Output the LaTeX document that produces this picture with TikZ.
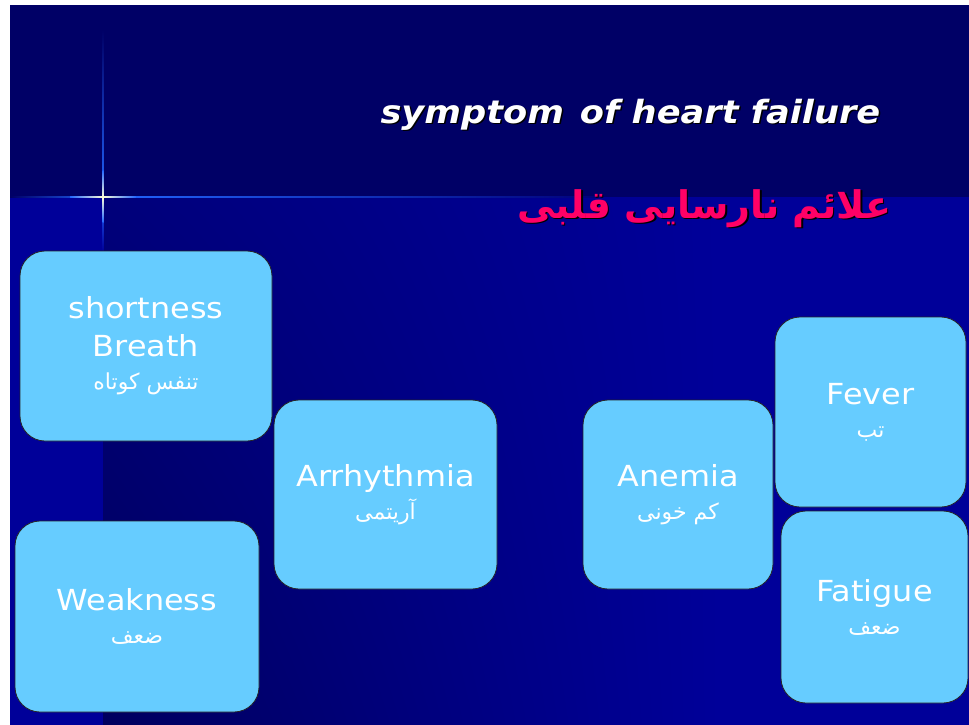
\documentclass[tikz,border=0pt]{standalone}
\usepackage{fontspec}
\usetikzlibrary{positioning,shadings}
\TeXXeTstate=1
\newfontfamily\boxfont[FakeStretch=1.1]{DejaVu Sans}
\newfontfamily\arabicfont[Script=Arabic]{DejaVu Sans}
\newcommand\fatext[1]{{\arabicfont\fontsize{22}{24}\selectfont\beginR #1\endR}}
\definecolor{navy}{HTML}{000066}
\definecolor{slideblue}{HTML}{000099}
\definecolor{bgdark}{HTML}{00005E}
\definecolor{boxblue}{HTML}{66CCFF}
\definecolor{titlepink}{HTML}{FF0066}
\definecolor{flare}{HTML}{2266FF}

\begin{document}
\begin{tikzpicture}[x=1pt, y=-1pt]
  \tikzstyle{box}=[draw=black!85, line width=0.8pt, fill=boxblue, rounded corners=25pt, align=center, text=white, font=\boxfont\fontsize{29}{38}\selectfont, inner sep=0pt]
  \tikzstyle{heading}=[font=\boxfont\bfseries\itshape\fontsize{32}{36}\selectfont]
  % slide background
  \useasboundingbox (0,0) rectangle (969,724);
  \fill[white] (0,0) rectangle (969,724);
  \fill[navy] (10,5) rectangle (970,197);
  \fill[slideblue] (10,197) rectangle (104,726);
  \shade[upper left=navy!60!slideblue, upper right=slideblue, lower left=bgdark, lower right=slideblue] (103,197) rectangle (720,726);
  \fill[slideblue] (719.5,197) rectangle (970,726);
  % star flare
  \shade[left color=navy, right color=flare] (10,196.2) rectangle (103,197.8);
  \shade[left color=flare, right color=navy!60!slideblue] (103,196.2) rectangle (600,197.8);
  \shade[top color=navy, bottom color=flare] (102.2,30) rectangle (103.8,197);
  \shade[top color=flare, bottom color=slideblue] (102.2,197) rectangle (103.8,251);
  \shade[left color=flare, right color=yellow!15] (70,196.5) rectangle (103,197.5);
  \shade[left color=yellow!15, right color=flare] (103,196.5) rectangle (136,197.5);
  \shade[top color=flare, bottom color=yellow!15] (102.5,170) rectangle (103.5,197);
  \shade[top color=yellow!15, bottom color=flare] (102.5,197) rectangle (103.5,222);

  % titles
  \node[heading, anchor=base west, text=black] (titleshadow) at (378.5,124.5) {symptom\hspace{0.5em}of heart failure};
  \node[heading, anchor=base west, text=white] (title) at (377,123) {symptom\hspace{0.5em}of heart failure};
  \node[anchor=base east, text=black, font=\arabicfont\bfseries\fontsize{38}{46}\selectfont] (subtitleshadow) at (896.5,219.5) {\beginR علائم نارسایی قلبی\endR};
  \node[anchor=base east, text=titlepink, font=\arabicfont\bfseries\fontsize{38}{46}\selectfont] (subtitle) at (895,218) {\beginR علائم نارسایی قلبی\endR};

  % symptom boxes
  \node[box, minimum width=252pt, minimum height=190pt] (breath) at (146,346) {shortness\\Breath\\[-5pt]\fatext{تنفس کوتاه}};
  \node[box, minimum width=244pt, minimum height=191pt] (weakness) at (137,616.5) {Weakness\\[-5pt]\fatext{ضعف}};
  \node[box, minimum width=223pt, minimum height=189pt] (arrhythmia) at (385.5,494.5) {Arrhythmia\\[-5pt]\fatext{آریتمی}};
  \node[box, minimum width=190pt, minimum height=189pt] (anemia) at (678,494.5) {Anemia\\[-5pt]\fatext{کم خونی}};
  \node[box, minimum width=191pt, minimum height=190pt] (fever) at (870.5,412) {Fever\\[-5pt]\fatext{تب}};
  \node[box, minimum width=187pt, minimum height=192pt] (fatigue) at (874.5,607) {Fatigue\\[-5pt]\fatext{ضعف}};
\end{tikzpicture}
\end{document}
